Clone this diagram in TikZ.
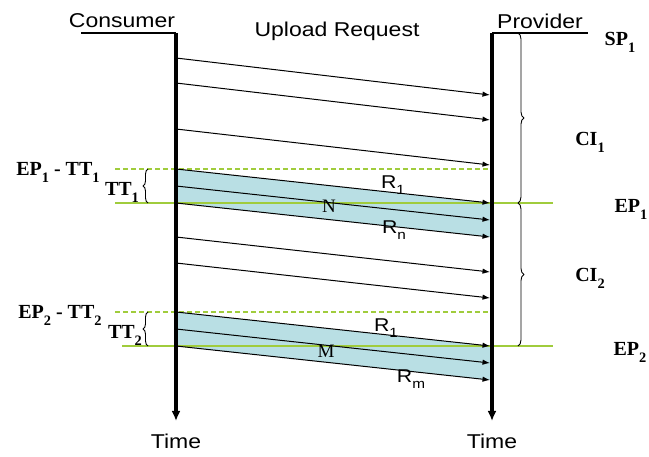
\documentclass[tikz,border=0pt]{standalone}
\usepackage{fontspec}
\setmainfont{Liberation Serif}
\newfontfamily\arialw{Liberation Sans}[FakeStretch=1.15]
\usetikzlibrary{arrows.meta,decorations.pathreplacing}
\definecolor{epgreen}{RGB}{160,204,60}
\definecolor{bandblue}{RGB}{185,223,228}
\newcommand\lo[1]{\raisebox{-.35em}{\scalebox{.72}{#1}}}
\begin{document}
\begin{tikzpicture}[x=1pt, y=-1pt, line join=round, >={Latex[length=7.5pt,width=5.5pt]},
    sans/.style={inner sep=0, font=\fontsize{20}{24}\selectfont\arialw},
    rlab/.style={inner sep=0, font=\fontsize{18.5}{22}\selectfont\arialw},
    serlab/.style={inner sep=0, font=\fontsize{20}{24}\selectfont\bfseries},
    bandlab/.style={inner sep=0, font=\fontsize{19}{22}\selectfont},
    msg/.style={->, line width=1pt},
    lifeline/.style={line width=3.6pt, -{Latex[length=10pt,width=9pt]}},
    head/.style={line width=2.5pt},
    epline/.style={epgreen, line width=2pt},
    epdash/.style={epgreen, line width=1.5pt, dash pattern=on 5pt off 3pt},
    brc/.style={decorate, decoration={brace, amplitude=#1}, line width=.9pt}]
    \useasboundingbox (0,0) rectangle (649,457);
    \def\cx{176}\def\px{492}\def\pe{490}
    % lifelines
    \coordinate (chead) at (81,33);  \coordinate (ctop) at (\cx,33); \coordinate (cbot) at (\cx,421);
    \coordinate (phead) at (588,33); \coordinate (ptop) at (\px,33); \coordinate (pbot) at (\px,421);
    \node[sans] (cons) at (122,21) {Consumer};
    \node[sans] (prov) at (540,21) {Provider};
    \node[sans] (req) at (337,31) {Upload Request};
    \node[sans] (ctime) at (\cx,441) {Time};
    \node[sans] (ptime) at (\px,441) {Time};
    % bands
    \foreach \b/\ya/\yb/\yc/\yd in {n/169/186/203/237, m/312/329/346/380}{
        \coordinate (c\b1) at (\cx,\ya); \coordinate (p\b1) at (\pe,\yc);
        \coordinate (c\b2) at (\cx,\yb); \coordinate (p\b2) at ({\pe},{\yc+17});
        \coordinate (c\b3) at (\cx,\yc); \coordinate (p\b3) at (\pe,\yd);
        \fill[bandblue] (c\b1) -- (p\b1) -- (p\b3) -- (c\b3) -- cycle;
    }
    % end points
    \coordinate (d1l) at (115,169); \coordinate (d1r) at (\pe,169);
    \coordinate (e1l) at (115,203); \coordinate (e1r) at (553,203);
    \coordinate (d2l) at (115,312); \coordinate (d2r) at (\pe,312);
    \coordinate (e2l) at (122,346); \coordinate (e2r) at (553,346);
    \draw[epdash] (d1l) -- (d1r);
    \draw[epdash] (d2l) -- (d2r);
    \draw[epline] (e1l) -- (e1r);
    \draw[epline] (e2l) -- (e2r);
    % requests
    \foreach \n/\ya/\yb in {a/58/95, b/83/120, c/129/165, d/237/272, e/263/298}{
        \coordinate (c\n) at (\cx,\ya); \coordinate (p\n) at (\pe,\yb);
        \draw[msg] (c\n) -- (p\n);
    }
    \foreach \b in {n,m}\foreach \i in {1,2,3}\draw[msg] (c\b\i) -- (p\b\i);
    \draw[head] (chead) -- (ctop);
    \draw[head] (ptop) -- (phead);
    \draw[lifeline] (ctop) -- (cbot);
    \draw[lifeline] (ptop) -- (pbot);
    % braces
    \coordinate (ci0) at (518,33); \coordinate (ci1) at (518,203); \coordinate (ci2) at (518,346);
    \coordinate (tt1t) at (148,169); \coordinate (tt1b) at (148,203);
    \coordinate (tt2t) at (148,312); \coordinate (tt2b) at (148,346);
    \draw[brc=6pt] (ci0) -- (ci1);
    \draw[brc=6pt] (ci1) -- (ci2);
    \draw[brc=5pt] (tt1b) -- (tt1t);
    \draw[brc=5pt] (tt2b) -- (tt2t);
    % labels
    \node[serlab] (sp1) at (620,42) {SP\lo{1}};
    \node[serlab] (ci1lab) at (590,142) {CI\lo{1}};
    \node[serlab] (ci2lab) at (590,278) {CI\lo{2}};
    \node[serlab] (ep1) at (631,209) {EP\lo{1}};
    \node[serlab] (ep2) at (630,352) {EP\lo{2}};
    \node[serlab] (ept1) at (58,172) {EP\lo{1} - TT\lo{1}};
    \node[serlab] (tt1) at (122,192) {TT\lo{1}};
    \node[serlab] (ept2) at (60,315) {EP\lo{2} - TT\lo{2}};
    \node[serlab] (tt2) at (125,335) {TT\lo{2}};
    \node[rlab] (r1n) at (393,185) {R\lo{1}};
    \node[bandlab] (nlab) at (329,206) {N};
    \node[rlab] (rn) at (394,230) {R\lo{n}};
    \node[rlab] (r1m) at (386,328) {R\lo{1}};
    \node[bandlab] (mlab) at (326,351) {M};
    \node[rlab] (rm) at (411,379) {R\lo{m}};
\end{tikzpicture}
\end{document}
